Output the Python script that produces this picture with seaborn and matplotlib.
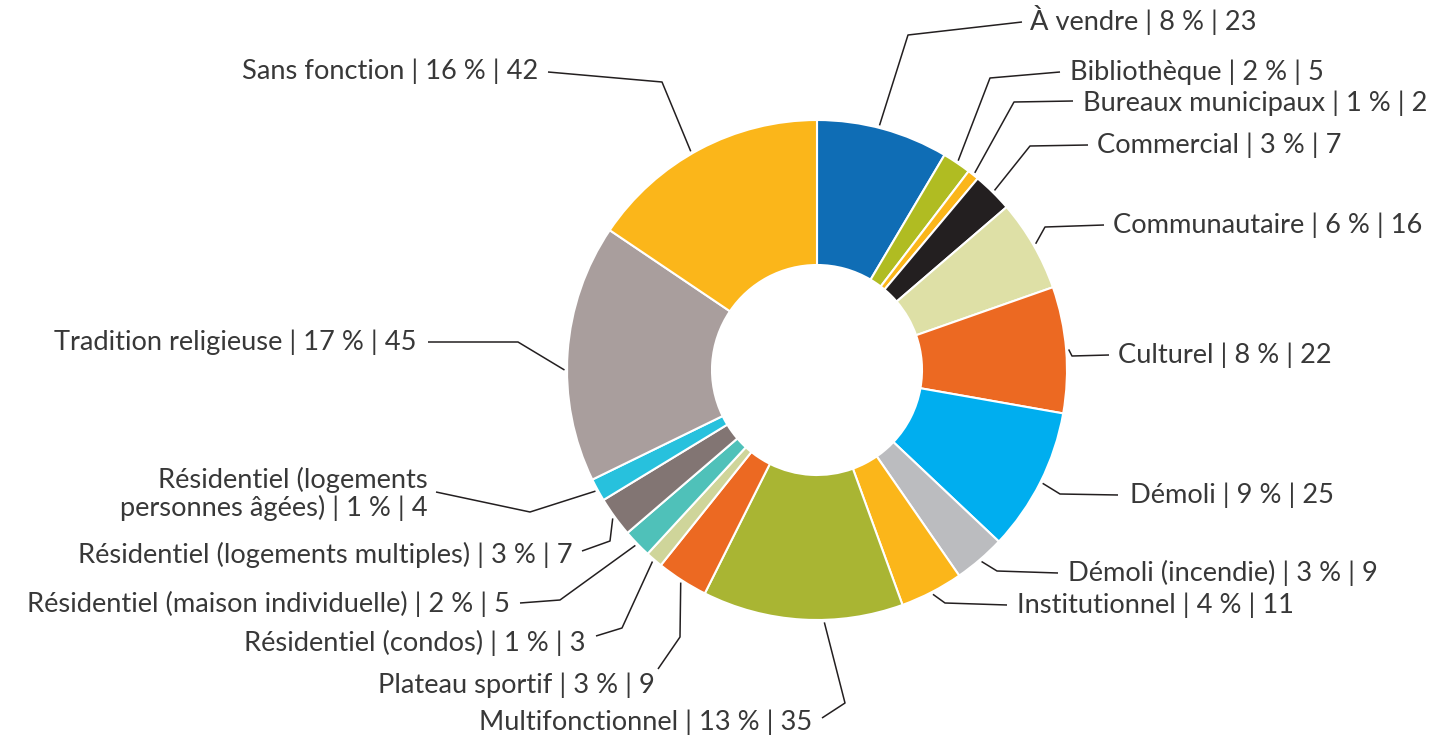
import numpy as np
import seaborn as sns
import matplotlib.pyplot as plt

# categories, values and share labels (clockwise from the top)
categories = ['À vendre', 'Bibliothèque', 'Bureaux municipaux', 'Commercial',
              'Communautaire', 'Culturel', 'Démoli', 'Démoli (incendie)',
              'Institutionnel', 'Multifonctionnel', 'Plateau sportif',
              'Résidentiel (condos)', 'Résidentiel (maison individuelle)',
              'Résidentiel (logements multiples)',
              'Résidentiel (logements\npersonnes âgées)',
              'Tradition religieuse', 'Sans fonction']
counts = [23, 5, 2, 7, 16, 22, 25, 9, 11, 35, 9, 3, 5, 7, 4, 45, 42]
percents = [8, 2, 1, 3, 6, 8, 9, 3, 4, 13, 3, 1, 2, 3, 1, 17, 16]

colors = ['#0F6DB5', '#B0BC22', '#FBB61A', '#231F20', '#DEE0A6', '#EC6922',
          '#00AEEF', '#BBBCBF', '#FBB61A', '#A9B533', '#EC6922', '#CFD59A',
          '#4FC1B9', '#827573', '#27C1DD', '#A99E9D', '#FBB61A']

# label layout in image pixels: text x, text y, alignment, line end, elbow
label_layout = [
    (1030, 20, 'left', (1022, 22), (908, 35)),
    (1070, 72, 'left', (1060, 72), (990, 78)),
    (1083, 103, 'left', (1073, 101), (1014, 102)),
    (1097, 145, 'left', (1088, 145), (1030, 146)),
    (1113, 225, 'left', (1104, 225), (1045, 227)),
    (1118, 355, 'left', (1109, 355), (1072, 356)),
    (1130, 495, 'left', (1118, 495), (1060, 494)),
    (1068, 573, 'left', (1058, 573), (997, 571)),
    (1017, 605, 'left', (1007, 605), (945, 603)),
    (812, 722, 'right', (822, 718), (845, 703)),
    (655, 685, 'right', (658, 669), (680, 637)),
    (586, 643, 'right', (596, 636), (622, 628)),
    (510, 604, 'right', (520, 603), (560, 600)),
    (573, 555, 'right', (582, 551), (610, 541)),
    (428, 494, 'right', (436, 492), (530, 512)),
    (416, 342, 'right', (428, 342), (518, 342)),
    (538, 71, 'right', (548, 72), (662, 82)),
]
# small shift of each leader start along the rim (degrees, clockwise)
start_shift = [-1, 0, 0, 0, 0, 0, 0, 0, 0, -5, 0, 0, 0, 0, 0, -4, -2]

W, H = 1445, 740
CX, CY, R = 817, 370, 250

sns.set_theme(style='white')
plt.rcParams['font.family'] = ['Lato', 'DejaVu Sans']

fig = plt.figure(figsize=(W / 100, H / 100), dpi=100)
ax = fig.add_axes([0, 0, 1, 1])

wedges, _ = ax.pie(counts, colors=colors, startangle=90, counterclock=False,
                   center=(CX, H - CY), radius=R,
                   wedgeprops=dict(width=R * 0.58, edgecolor='white', linewidth=1.5))

for w, cat, pct, n, (tx, ty, ha, end, elbow), sh in zip(
        wedges, categories, percents, counts, label_layout, start_shift):
    mid = np.deg2rad((w.theta1 + w.theta2) / 2 - sh)
    sx = CX + R * 1.01 * np.cos(mid)
    sy = (H - CY) + R * 1.01 * np.sin(mid)
    xs = [sx, elbow[0], end[0]]
    ys = [sy, H - elbow[1], H - end[1]]
    ax.plot(xs, ys, color='#231F20', lw=1.1, solid_capstyle='butt')
    ax.text(tx, H - ty, f'{cat} | {pct} % | {n}', ha=ha, va='center',
            multialignment='right', fontsize=19.6, fontweight='normal',
            color='#383838', linespacing=1.1)

ax.set_xlim(0, W)
ax.set_ylim(0, H)
ax.set_aspect('equal')
ax.axis('off')

plt.savefig('out.png', dpi=100)
